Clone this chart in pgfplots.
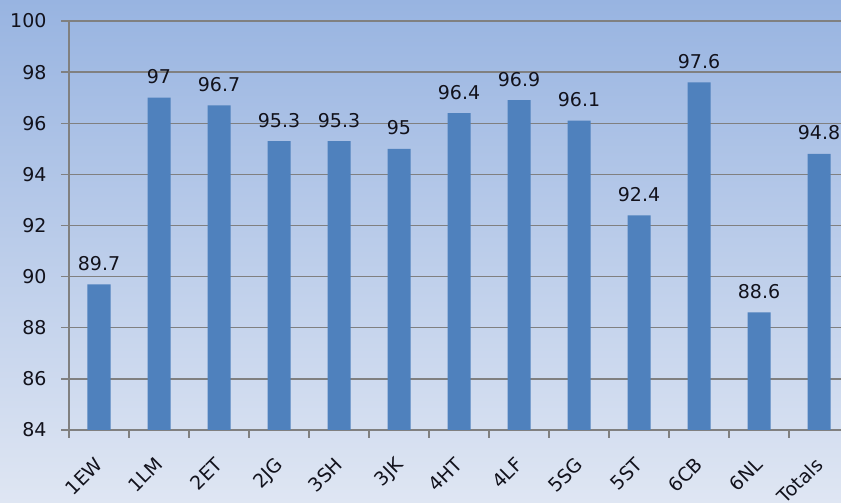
\documentclass[border=0pt]{standalone}
\usepackage{pgfplots}
\pgfplotsset{compat=1.18}
\usepackage{fontspec}
\setmainfont{DejaVu Sans}
\definecolor{bgtop}{RGB}{152,180,225}
\definecolor{bgbot}{RGB}{223,230,243}
\definecolor{barblue}{RGB}{79,129,189}
\definecolor{gridgray}{RGB}{128,128,128}
\definecolor{txt}{RGB}{18,18,28}
\begin{document}
\begin{tikzpicture}
\path[use as bounding box] (0,0) rectangle (841pt,503pt);
\shade[top color=bgtop, bottom color=bgbot] (0,0) rectangle (841pt,503pt);
\begin{axis}[
  at={(69pt,73pt)}, anchor=south west,
  scale only axis, width=780pt, height=409pt,
  xmin=-0.5, xmax=12.5, ymin=84, ymax=100,
  ybar, bar width=23pt,
  axis lines=left,
  axis line style={-, draw=gridgray, line width=1.4pt},
  ytick={84,86,...,100},
  ymajorgrids, grid style={gridgray, line width=1.4pt},
  xtick={-0.5,0.5,...,12.5}, x tick label as interval,
  xticklabels={1EW,1LM,2ET,2JG,3SH,3JK,4HT,4LF,5SG,5ST,6CB,6NL,Totals},
  tick align=outside, major tick length=8pt,
  tick style={gridgray, line width=1.4pt},
  /pgf/number format/assume math mode=true,
  ticklabel style={text=txt},
  yticklabel style={font=\fontsize{19}{22}\selectfont, xshift=-11pt},
  xticklabel style={font=\fontsize{19}{22}\selectfont, xshift=-5pt, yshift=-15pt, rotate=45, anchor=north east, inner sep=2pt},
  nodes near coords,
  every node near coord/.append style={font=\fontsize{19}{22}\selectfont, text=txt, anchor=base, yshift=14pt},
]
\addplot[fill=barblue, draw=none] coordinates {
(0,89.7) (1,97) (2,96.7) (3,95.3) (4,95.3) (5,95) (6,96.4) (7,96.9) (8,96.1) (9,92.4) (10,97.6) (11,88.6) (12,94.8)
};
\end{axis}
\end{tikzpicture}
\end{document}
